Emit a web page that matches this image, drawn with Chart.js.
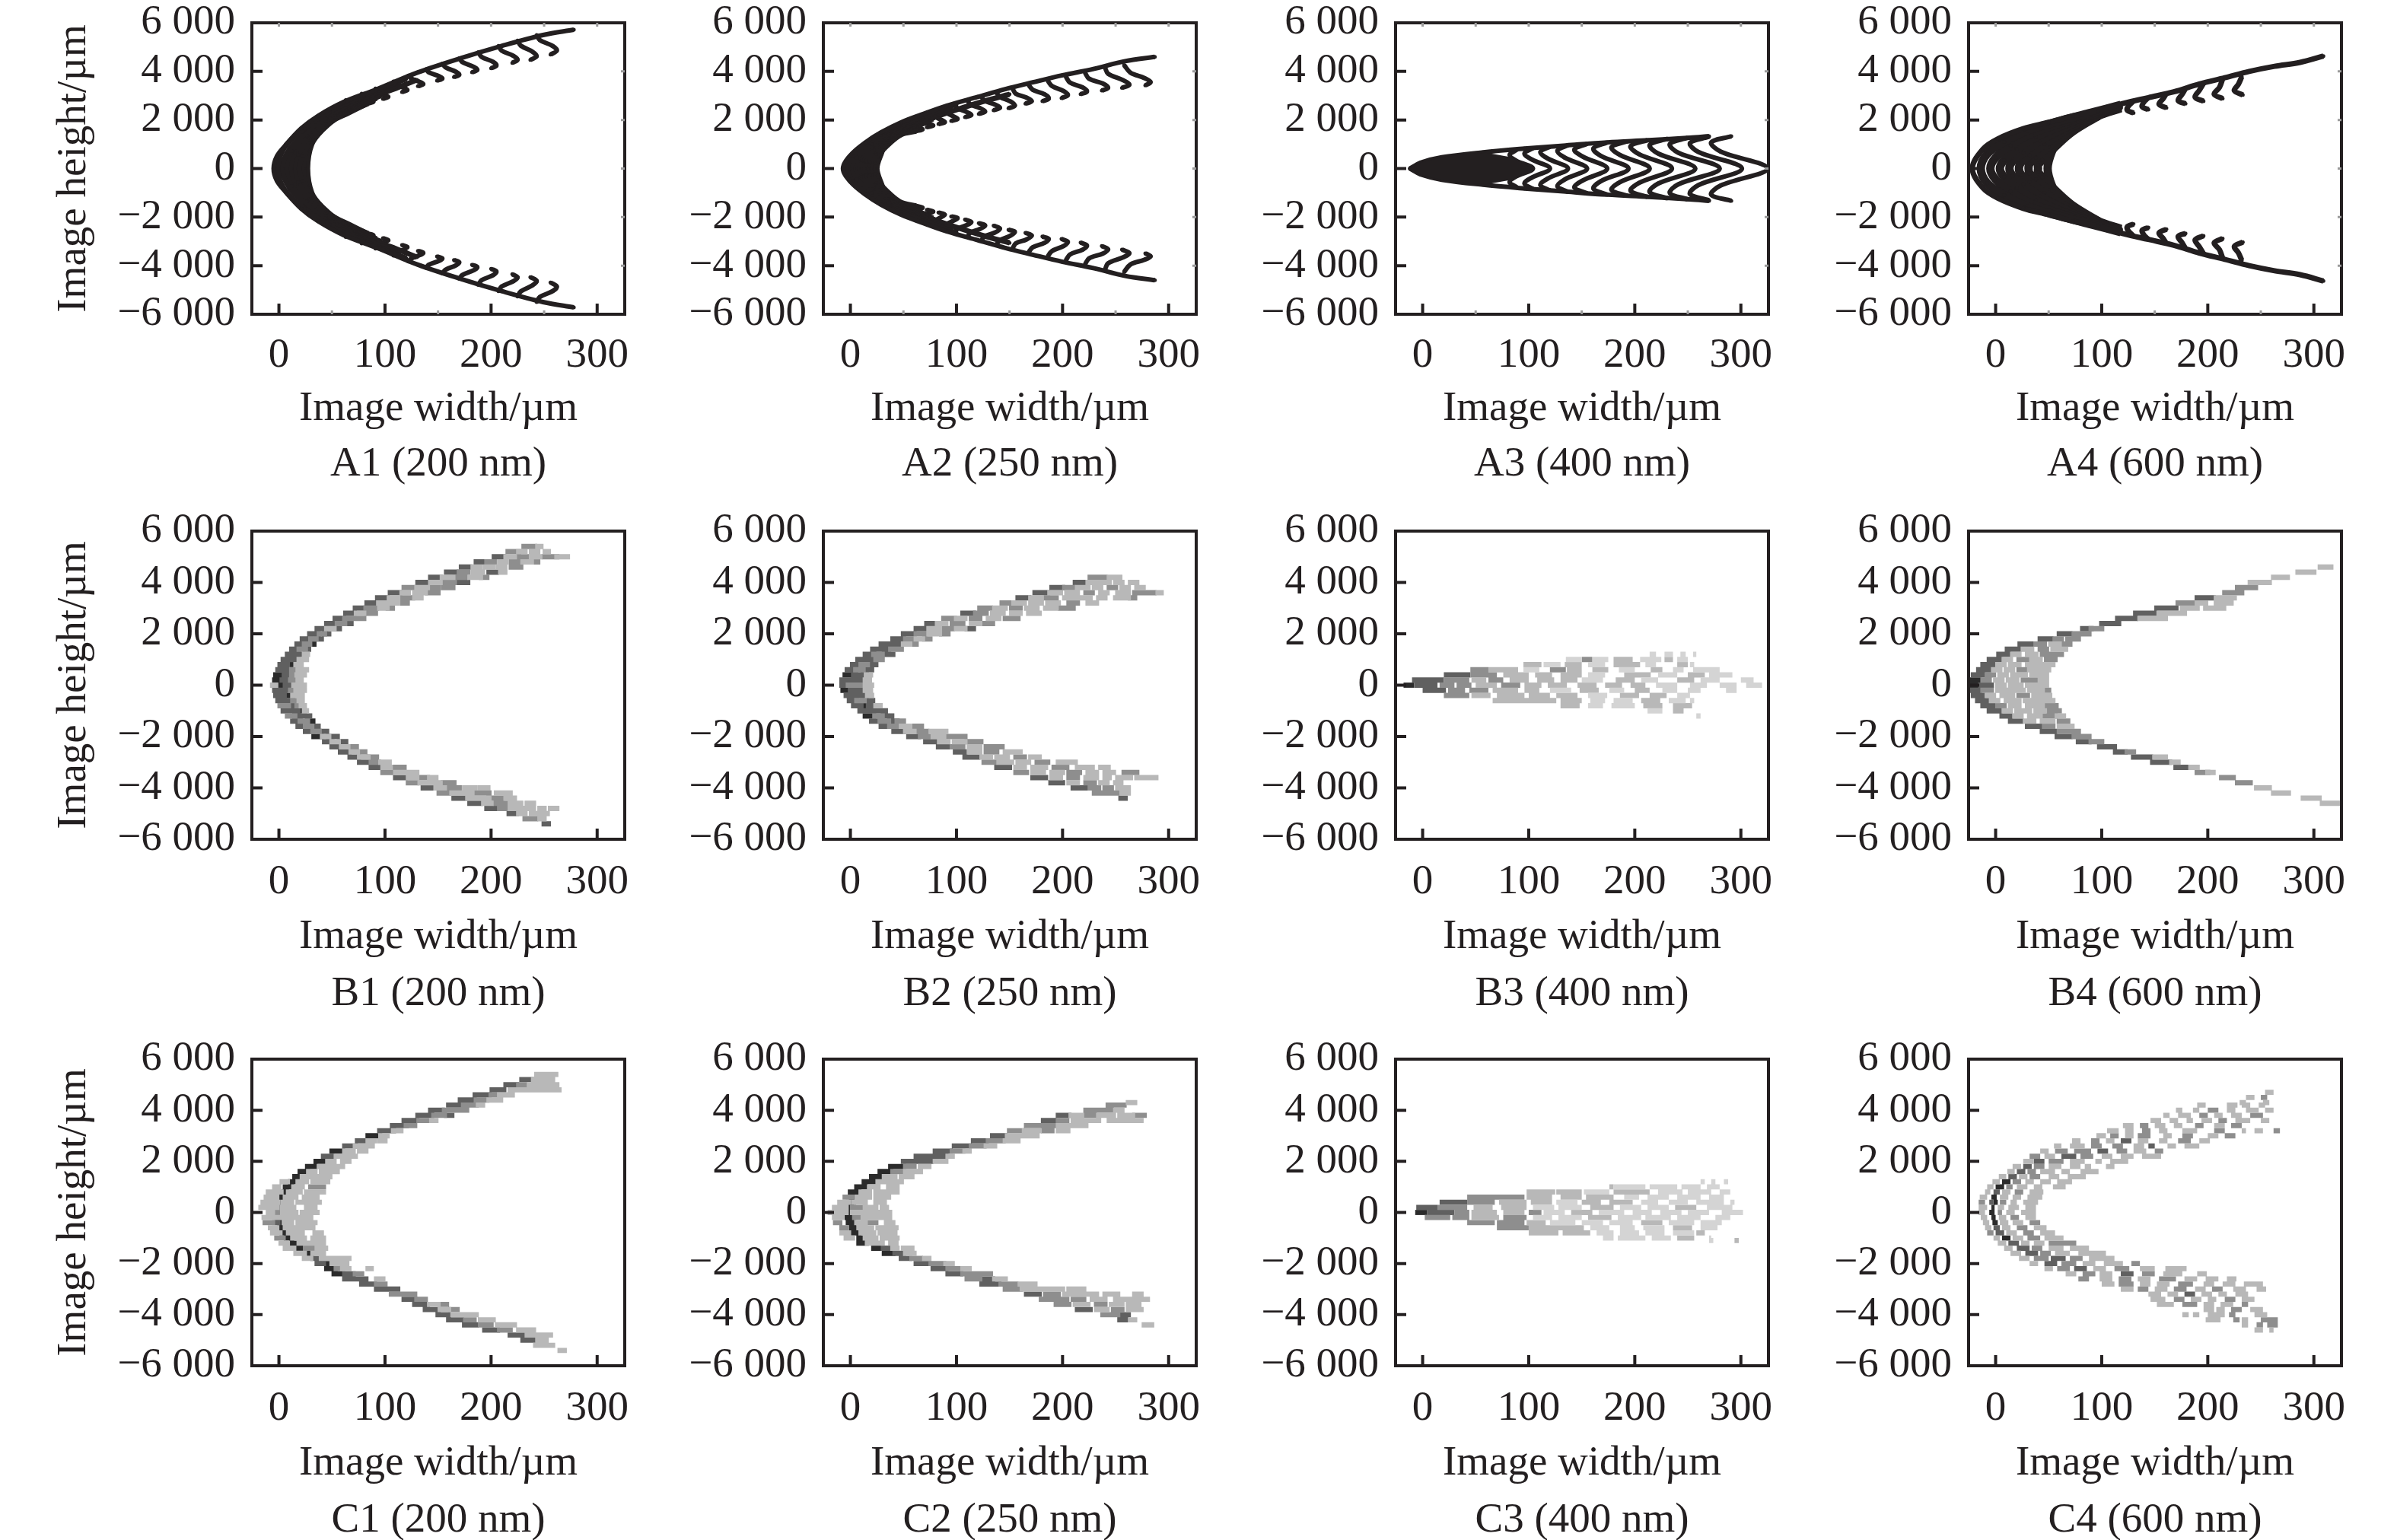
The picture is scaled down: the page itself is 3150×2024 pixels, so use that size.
<!DOCTYPE html>
<html>
<head>
<meta charset="utf-8">
<script src="https://cdn.jsdelivr.net/npm/chart.js@4"></script>
<style>
  html, body { margin: 0; background: #fff; }
  #fig { position: relative; width: 3150px; height: 2024px; overflow: hidden; }
  canvas { position: absolute; }
</style>
</head>
<body>
<div id="fig"></div>
<script>
const xTicks = [0, 100, 200, 300];
const xMinor = [50, 150, 250];
const yTicks = [-6000, -4000, -2000, 0, 2000, 4000, 6000];
const yTickLabels = ['\u22126 000', '\u22124 000', '\u22122 000', '0', '2 000', '4 000', '6 000'];
const xRange = [-25.5, 326];
const yRange = [-6000, 6000];

// A row: simulated spot traces, one [x, y] polyline each
const a1Curves = [
  [[278,5720],[249,5500],[210,5050],[171,4540],[131,3960],[92,3260],[61,2740],[37,2170],[21,1650],[6,950],[-2,500],[-5,0],[-2,-500],[6,-950],[21,-1650],[37,-2170],[61,-2740],[92,-3260],[131,-3960],[171,-4540],[210,-5050],[249,-5500],[278,-5720]],
  [[120,3700],[80,3000],[48,2350],[24,1650],[5,850],[-1,0],[5,-850],[24,-1650],[48,-2350],[80,-3000],[120,-3700]],
  [[110,3400],[75,2830],[45,2160],[25,1450],[10,800],[3,0],[10,-800],[25,-1450],[45,-2160],[75,-2830],[110,-3400]],
  [[105,3250],[72,2700],[44,2060],[26,1370],[12,720],[7,0],[12,-720],[26,-1370],[44,-2060],[72,-2700],[105,-3250]],
  [[100,3100],[68,2560],[44,1960],[28,1280],[15,650],[11,0],[15,-650],[28,-1280],[44,-1960],[68,-2560],[100,-3100]],
  [[96,3000],[66,2470],[44,1880],[29,1190],[18,570],[15,0],[18,-570],[29,-1190],[44,-1880],[66,-2470],[96,-3000]],
  [[92,2900],[65,2380],[45,1800],[30,1100],[22,500],[19,0],[22,-500],[30,-1100],[45,-1800],[65,-2380],[92,-2900]],
  [[88,2790],[66,2300],[50,1950],[35,1350],[26,750],[23,0],[26,-750],[35,-1350],[50,-1950],[66,-2300],[88,-2790]],
  [[84,2680],[69,2400],[57,2170],[41,1590],[31,1010],[27,0],[31,-1010],[41,-1590],[57,-2170],[69,-2400],[84,-2680]],
  [[130,3650],[110,3300],[85,2900],[65,2500],[50,2150]],
  [[130,-3650],[110,-3300],[85,-2900],[65,-2500],[50,-2150]],
  [[243,5500],[246,5290],[258,5050],[262,4860],[256,4690]],
  [[225,5270],[228,5060],[239,4810],[243,4630],[237,4470]],
  [[207,5050],[210,4860],[221,4640],[225,4480],[220,4350]],
  [[188,4790],[191,4600],[202,4390],[205,4240],[200,4130]],
  [[170,4540],[173,4380],[184,4180],[187,4060],[182,3960]],
  [[154,4320],[157,4170],[167,3980],[170,3860],[165,3770]],
  [[139,4100],[141,3970],[151,3800],[154,3700],[149,3620]],
  [[122,3830],[125,3700],[133,3560],[136,3470],[131,3390]],
  [[108,3590],[110,3480],[118,3320],[121,3230],[116,3150]],
  [[91,3300],[93,3180],[100,3030],[103,2950],[98,2870]],
  [[78,3090],[80,2980],[86,2830],[89,2750],[84,2680]],
  [[63,2820],[65,2710],[71,2570],[74,2490],[69,2420]],
  [[50,2500],[51,2420],[55,2300],[58,2230],[53,2170]],
  [[243,-5500],[246,-5290],[258,-5050],[262,-4860],[256,-4690]],
  [[225,-5270],[228,-5060],[239,-4810],[243,-4630],[237,-4470]],
  [[207,-5050],[210,-4860],[221,-4640],[225,-4480],[220,-4350]],
  [[188,-4790],[191,-4600],[202,-4390],[205,-4240],[200,-4130]],
  [[170,-4540],[173,-4380],[184,-4180],[187,-4060],[182,-3960]],
  [[154,-4320],[157,-4170],[167,-3980],[170,-3860],[165,-3770]],
  [[139,-4100],[141,-3970],[151,-3800],[154,-3700],[149,-3620]],
  [[122,-3830],[125,-3700],[133,-3560],[136,-3470],[131,-3390]],
  [[108,-3590],[110,-3480],[118,-3320],[121,-3230],[116,-3150]],
  [[91,-3300],[93,-3180],[100,-3030],[103,-2950],[98,-2870]],
  [[78,-3090],[80,-2980],[86,-2830],[89,-2750],[84,-2680]],
  [[63,-2820],[65,-2710],[71,-2570],[74,-2490],[69,-2420]],
  [[50,-2500],[51,-2420],[55,-2300],[58,-2230],[53,-2170]]
];
const a2Curves = [
  [[287,4600],[259,4420],[229,4100],[200,3840],[172,3550],[146,3270],[120,2950],[91,2590],[67,2220],[48,1905],[29,1490],[14,1070],[0,545],[-7,0],[0,-545],[14,-1070],[29,-1490],[48,-1905],[67,-2220],[91,-2590],[120,-2950],[146,-3270],[172,-3550],[200,-3840],[229,-4100],[259,-4420],[287,-4600]],
  [[100,2650],[68,2150],[38,1650],[16,1050],[2,500],[-3,0],[2,-500],[16,-1050],[38,-1650],[68,-2150],[100,-2650]],
  [[95,2500],[62,2000],[38,1550],[20,1000],[6,450],[0,0],[6,-450],[20,-1000],[38,-1550],[62,-2000],[95,-2500]],
  [[90,2350],[60,1880],[37,1450],[20,920],[8,400],[3.5,0],[8,-400],[20,-920],[37,-1450],[60,-1880],[90,-2350]],
  [[85,2200],[56,1780],[36,1350],[21,850],[10,350],[7,0],[10,-350],[21,-850],[36,-1350],[56,-1780],[85,-2200]],
  [[78,2050],[54,1690],[36,1280],[22,780],[12,320],[10,0],[12,-320],[22,-780],[36,-1280],[54,-1690],[78,-2050]],
  [[72,1900],[52,1600],[36,1200],[23,700],[15,300],[13,0],[15,-300],[23,-700],[36,-1200],[52,-1600],[72,-1900]],
  [[66,1720],[50,1500],[36,1100],[24,620],[18,280],[16,0],[18,-280],[24,-620],[36,-1100],[50,-1500],[66,-1720]],
  [[62,1540],[48,1400],[36,1000],[26,550],[20,250],[19,0],[20,-250],[26,-550],[36,-1000],[48,-1400],[62,-1540]],
  [[56,1600],[42,1300],[32,880],[27,480],[23,220],[22,0],[23,-220],[27,-480],[32,-880],[42,-1300],[56,-1600]],
  [[50,1500],[35,1170],[29,600],[25,0],[29,-600],[35,-1170],[50,-1500]],
  [[150,3060],[125,2760],[100,2420],[78,2090],[60,1770]],
  [[150,-3060],[125,-2760],[100,-2420],[78,-2090],[60,-1770]],
  [[258,4260],[264,3950],[277,3730],[283,3560],[278,3420]],
  [[240,4160],[243,3900],[257,3640],[263,3450],[256,3320]],
  [[221,3960],[225,3700],[238,3500],[243,3330],[237,3210]],
  [[203,3790],[207,3540],[219,3340],[223,3170],[217,3060]],
  [[186,3620],[190,3400],[201,3190],[205,3020],[199,2900]],
  [[168,3440],[172,3240],[183,3060],[187,2880],[181,2770]],
  [[153,3280],[156,3080],[166,2920],[171,2770],[165,2670]],
  [[138,3110],[141,2950],[151,2760],[155,2590],[149,2480]],
  [[124,2940],[126,2800],[136,2640],[141,2500],[135,2400]],
  [[111,2760],[113,2640],[122,2490],[127,2340],[121,2250]],
  [[99,2600],[101,2480],[109,2340],[114,2200],[108,2115]],
  [[87,2450],[89,2330],[96,2170],[101,2040],[95,1960]],
  [[76,2300],[78,2190],[84,2040],[89,1910],[83,1830]],
  [[66,2130],[67,2040],[73,1880],[78,1770],[72,1700]],
  [[57,1990],[58,1900],[63,1730],[68,1610],[62,1540]],
  [[258,-4260],[264,-3950],[277,-3760],[283,-3620],[278,-3490]],
  [[240,-4160],[243,-3900],[257,-3660],[263,-3480],[256,-3340]],
  [[221,-3960],[225,-3700],[238,-3500],[243,-3330],[237,-3190]],
  [[203,-3790],[207,-3540],[219,-3340],[223,-3170],[217,-3050]],
  [[186,-3620],[190,-3400],[201,-3190],[205,-3020],[199,-2900]],
  [[168,-3440],[172,-3240],[183,-3060],[187,-2900],[181,-2800]],
  [[153,-3280],[156,-3080],[166,-2920],[171,-2760],[165,-2650]],
  [[138,-3110],[141,-2950],[151,-2760],[155,-2600],[149,-2520]],
  [[124,-2940],[126,-2800],[136,-2640],[141,-2470],[135,-2350]],
  [[111,-2760],[113,-2640],[122,-2490],[127,-2340],[121,-2250]],
  [[99,-2600],[101,-2480],[109,-2340],[114,-2200],[108,-2100]],
  [[87,-2450],[89,-2330],[96,-2170],[101,-2040],[95,-1970]],
  [[76,-2300],[78,-2190],[84,-2040],[89,-1900],[83,-1810]],
  [[66,-2130],[67,-2040],[73,-1880],[78,-1770],[72,-1700]],
  [[57,-1990],[58,-1900],[63,-1730],[68,-1610],[62,-1540]]
];
const a3LensUp = [[-12,0],[-2,240],[18,460],[40,590],[60,650],[82,480],[104,0]];
const a3LensLow = [[-12,0],[-2,-240],[18,-460],[40,-590],[60,-650],[82,-480],[104,0]];
const a3Curves = [
  [[-12,0],[-2,240],[18,460],[57,667],[96,820],[135,950],[174,1077],[213,1167],[252,1270],[270,1333]],
  [[-12,0],[-2,-240],[18,-460],[57,-667],[96,-820],[135,-950],[174,-1077],[213,-1167],[252,-1270],[270,-1333]],
  [[291,1330],[272,1077],[281,700],[325,0],[281,-700],[272,-1077],[291,-1330]],
  [[270,1310],[252,1050],[260,680],[301,0],[260,-680],[252,-1050],[270,-1310]],
  [[250,1270],[233,1010],[241,650],[280,0],[241,-650],[233,-1010],[250,-1270]],
  [[231,1230],[214,970],[222,620],[257,0],[222,-620],[214,-970],[231,-1230]],
  [[212,1170],[196,920],[204,590],[235,0],[204,-590],[196,-920],[212,-1170]],
  [[193,1120],[178,880],[186,560],[214,0],[186,-560],[178,-880],[193,-1120]],
  [[174,1075],[161,830],[168,520],[194,0],[168,-520],[161,-830],[174,-1075]],
  [[155,1020],[143,780],[151,490],[174,0],[151,-490],[143,-780],[155,-1020]],
  [[137,960],[127,730],[134,450],[155,0],[134,-450],[127,-730],[137,-960]],
  [[120,900],[111,680],[118,410],[137,0],[118,-410],[111,-680],[120,-900]],
  [[104,840],[96,620],[103,370],[120,0],[103,-370],[96,-620],[104,-840]],
  [[89,780],[82,560],[88,330],[104,0],[88,-330],[82,-560],[89,-780]]
];
const a4Curves = [
  [[309,4630],[287,4370],[263,4210],[239,4000],[216,3740],[192,3480],[168,3160],[144,2920],[121,2690],[97,2380],[73,2170],[50,1905],[26,1640],[2,1220],[-12,800],[-22,0],[-12,-800],[2,-1220],[26,-1640],[50,-1905],[73,-2170],[97,-2380],[121,-2690],[144,-2920],[168,-3160],[192,-3480],[216,-3740],[239,-4000],[263,-4210],[287,-4370],[309,-4630]],
  [[118,2620],[90,2300],[60,1950],[30,1560],[8,1100],[-8,600],[-14,0],[-8,-600],[8,-1100],[30,-1560],[60,-1950],[90,-2300],[118,-2620]],
  [[118,2580],[90,2260],[62,1880],[34,1450],[14,950],[0,450],[-5,0],[0,-450],[14,-950],[34,-1450],[62,-1880],[90,-2260],[118,-2580]],
  [[118,2550],[92,2230],[64,1800],[38,1300],[20,800],[8,350],[4,0],[8,-350],[20,-800],[38,-1300],[64,-1800],[92,-2230],[118,-2550]],
  [[118,2520],[92,2200],[66,1700],[42,1150],[26,650],[16,300],[13,0],[16,-300],[26,-650],[42,-1150],[66,-1700],[92,-2200],[118,-2520]],
  [[118,2500],[94,2170],[68,1620],[46,1000],[32,550],[24,250],[22,0],[24,-250],[32,-550],[46,-1000],[68,-1620],[94,-2170],[118,-2500]],
  [[118,2480],[97,2170],[70,1550],[50,900],[38,450],[32,200],[31,0],[32,-200],[38,-450],[50,-900],[70,-1550],[97,-2170],[118,-2480]],
  [[97,2170],[72,1500],[54,800],[44,350],[40,150],[40,0],[40,-150],[44,-350],[54,-800],[72,-1500],[97,-2170]],
  [[97,2170],[73,1750],[61,1330],[53,700],[49,0],[53,-700],[61,-1330],[73,-1750],[97,-2170]],
  [[233,3030],[225,3210],[229,3480],[232,3780]],
  [[214,2880],[206,3060],[211,3340],[214,3690]],
  [[196,2770],[188,2940],[192,3220],[196,3510]],
  [[179,2670],[172,2800],[176,3070],[179,3300]],
  [[161,2500],[154,2650],[158,2880],[161,3100]],
  [[144,2430],[138,2550],[140,2750],[144,2920]],
  [[130,2290],[124,2400],[125,2560],[130,2780]],
  [[233,-3030],[225,-3210],[229,-3480],[232,-3780]],
  [[214,-2880],[206,-3060],[211,-3340],[214,-3690]],
  [[196,-2770],[188,-2940],[192,-3220],[196,-3510]],
  [[179,-2670],[172,-2800],[176,-3070],[179,-3300]],
  [[161,-2500],[154,-2650],[158,-2880],[161,-3100]],
  [[144,-2430],[138,-2550],[140,-2750],[144,-2920]],
  [[130,-2290],[124,-2400],[125,-2560],[130,-2780]]
];

// B and C rows: density cells, one row per y: [y, x0, x1, density, x0, x1, density, ...]
const b1Rows = [
  [5400,231,241,2,244,247,1],
  [5200,216,226,2,226,232,1,238,244,1,251,254,1],
  [5000,203,212,3,214,222,1,226,234,2,238,246,1,250,262,2,262,272,1],
  [4800,186,194,3,196,203,2,208,214,1,219,226,2,230,238,1,241,244,2],
  [4600,172,180,3,183,190,1,195,202,1,207,213,1,219,228,2],
  [4400,158,167,3,170,178,2,183,192,1,198,205,3,209,213,1],
  [4200,143,152,3,154,164,1,166,176,2,180,190,1,191,196,2],
  [4000,131,140,3,143,152,1,155,165,2,170,178,3],
  [3800,118,127,2,130,140,1,143,150,2,155,164,2],
  [3600,105,114,3,116,122,1,128,138,1,140,150,2],
  [3400,93,102,3,104,112,1,116,126,2,128,134,1],
  [3200,83,92,3,94,102,1,105,112,1,114,121,2],
  [3000,72,80,3,82,92,2,95,102,1,103,107,2],
  [2800,63,71,3,73,80,1,83,91,2],
  [2600,53,61,3,62,70,2,72,80,2],
  [2400,45,53,3,55,62,2,63,68,3],
  [2200,36,44,3,45,52,1,52,57,3],
  [2000,29,37,3,38,43,2,43,47,3],
  [1800,22,30,3,30,35,2,35,40,3],
  [1600,17,24,3,24,29,2,29,33,4],
  [1400,12,19,3,19,25,2,25,28,3],
  [1200,8,15,3,15,22,3,24,27,1],
  [1000,4,12,3,12,18,3,19,22,1,24,26,1],
  [800,1,8,3,8,15,4,16,21,1],
  [600,-1,6,3,6,12,3,12,16,2,18,26,1],
  [400,-3,5,4,5,12,3,12,14,2,17,24,1],
  [200,-4,3,4,3,10,3,11,14,2,18,21,1],
  [0,-6,-3,1,-3,6,4,6,12,3,14,24,1],
  [-200,-4,3,3,3,10,3,11,14,2,16,24,1],
  [-400,-3,5,3,5,12,4,13,16,1,18,22,1],
  [-600,-1,6,3,6,13,3,13,17,2,19,22,1],
  [-800,1,9,2,9,16,3,17,21,2,21,24,1],
  [-1000,4,11,3,11,18,3,18,24,4,24,26,1],
  [-1200,8,15,2,15,22,3,23,29,3],
  [-1400,13,20,3,20,27,2,27,32,4],
  [-1600,18,25,3,25,31,2,31,37,3],
  [-1800,25,32,3,32,38,2,38,45,3],
  [-2000,33,40,4,41,47,1,47,55,3],
  [-2200,43,50,3,50,56,1,57,63,3],
  [-2400,50,58,3,59,65,1,66,73,2],
  [-2600,58,66,3,68,74,1,75,81,2],
  [-2800,67,75,3,76,84,1,85,92,2],
  [-3000,76,84,3,87,94,2,96,104,1],
  [-3200,87,96,3,98,105,1,108,118,2],
  [-3400,98,107,2,110,116,1,120,130,1],
  [-3600,110,119,3,122,130,1,133,140,2,142,148,1],
  [-3800,122,130,2,133,140,1,144,152,1,155,165,2],
  [-4000,136,145,3,148,156,1,160,170,2,175,185,1,190,197,1],
  [-4200,151,160,2,163,172,1,176,182,1,186,198,2,205,218,1],
  [-4400,165,175,3,178,186,1,190,198,1,198,210,2,214,222,1],
  [-4600,180,190,3,193,200,1,204,214,2,218,228,1,234,240,1],
  [-4800,196,205,3,208,214,2,218,226,1,230,240,1,246,250,1,256,262,1],
  [-5000,217,224,3,226,232,1,238,244,1,248,253,1],
  [-5200,232,242,2,246,250,1],
  [-5400,250,254,3]
];
const b2Rows = [
  [4200,226,234,2,234,240,2,244,248,1,250,254,1],
  [4000,212,222,3,224,232,1,236,244,1,250,256,1,264,270,1],
  [3800,190,200,3,202,210,2,214,224,1,230,236,1,244,250,2,256,262,1,270,276,1],
  [3600,174,186,3,188,198,1,204,214,1,222,228,2,236,242,1,252,262,1,268,276,2,280,286,2,290,293,1],
  [3400,158,168,3,170,180,1,184,194,2,202,210,1,214,226,1,234,240,1,250,262,1,264,268,2],
  [3200,143,152,2,154,164,1,170,180,1,186,196,1,206,214,2,224,232,1],
  [3000,122,132,2,136,146,1,152,160,2,166,176,1,184,194,1,198,210,2],
  [2800,106,116,3,118,128,2,134,144,1,152,160,1,168,178,1],
  [2600,88,98,2,100,108,1,114,122,2,130,140,1,146,158,2],
  [2400,72,80,3,82,90,1,96,106,2,114,122,1,126,134,2],
  [2200,62,72,3,74,84,1,88,96,2,100,108,1,110,116,3],
  [2000,50,60,3,62,70,2,74,84,1,86,92,2],
  [1800,40,50,3,52,60,2,62,68,1,70,75,2],
  [1600,29,38,3,40,48,3,50,56,1,58,62,2],
  [1400,21,30,3,30,36,3,38,44,2,44,48,2],
  [1200,14,22,3,22,30,2,32,40,3],
  [1000,7,15,3,15,22,3,24,30,2],
  [800,2,10,3,10,16,2,16,24,3],
  [600,-3,5,3,5,12,2,12,20,3],
  [400,-5,3,4,3,10,3,11,15,3,15,19,1],
  [200,-8,0,3,0,7,3,7,14,3,14,18,1],
  [0,-8,-2,3,-2,5,2,5,10,2,10,14,4,14,20,1],
  [-200,-7,0,4,0,8,3,9,14,3,14,19,1],
  [-400,-4,4,3,4,11,3,11,15,4,16,20,1],
  [-600,-1,6,3,6,13,2,14,21,3],
  [-800,3,10,3,11,17,4,17,23,3,24,28,1],
  [-1000,9,17,3,18,24,3,26,33,3],
  [-1200,14,22,4,23,30,2,31,39,3],
  [-1400,20,28,3,28,36,2,37,44,3,44,50,2],
  [-1600,29,37,3,37,46,2,48,56,1,58,67,2],
  [-1800,41,50,3,52,60,1,64,72,2,76,90,1],
  [-2000,55,64,3,66,74,2,78,88,1,92,108,2],
  [-2200,71,80,3,84,92,1,98,108,1,110,123,2],
  [-2400,83,93,3,96,106,2,112,122,1,128,143,2],
  [-2600,99,108,3,112,122,1,128,138,2,146,160,1],
  [-2800,108,120,3,124,132,1,138,148,1,156,164,2,170,178,1],
  [-3000,126,136,2,140,152,1,158,168,1,176,186,2,196,212,1],
  [-3200,138,150,3,156,164,1,172,184,1,192,204,2,214,228,1,236,243,1],
  [-3400,156,166,2,172,182,1,190,200,1,206,216,2,224,232,1,240,248,1,258,270,2],
  [-3600,172,184,3,190,198,1,206,214,2,222,232,1,240,244,1,252,264,1,270,288,1],
  [-3800,189,200,3,206,214,1,222,230,2,236,242,1,250,255,1],
  [-4000,210,222,3,226,234,2,240,246,2,252,262,1],
  [-4200,230,242,2,246,252,2,256,262,1],
  [-4400,255,259,3]
];
const b3Rows = [
  [1200,214,220,0,228,236,0,243,248,0,255,258,0],
  [1000,135,150,0,150,160,2,160,175,0,180,198,1,205,225,0,228,236,1,240,250,0],
  [800,95,112,1,114,130,0,134,150,1,156,172,0,180,205,1,210,220,0,240,250,1,252,256,0],
  [600,45,62,2,62,90,1,95,110,0,120,135,2,136,150,1,160,175,1,185,200,0,215,226,1,236,246,0,255,280,0],
  [400,20,45,3,45,70,2,76,100,1,106,122,1,130,150,1,156,172,0,190,215,1,222,240,0,250,266,1,270,292,0],
  [200,-10,20,3,20,44,2,46,60,1,62,76,2,82,100,1,108,124,1,130,146,1,150,170,0,182,200,1,206,222,0,240,256,1,262,280,0,300,312,0],
  [0,-18,-8,4,-8,14,3,16,30,2,32,46,2,50,70,1,74,92,2,96,112,1,118,136,1,146,164,1,172,188,1,196,210,1,220,240,0,252,268,0,280,296,0,305,320,0],
  [-200,0,22,3,24,40,2,44,62,2,66,90,1,96,110,1,120,140,0,148,166,1,176,190,0,200,214,1,226,240,0,250,262,0,286,296,0],
  [-400,20,44,2,46,64,1,70,96,1,100,120,1,126,146,1,156,174,0,186,204,1,214,230,1,240,252,0],
  [-600,66,100,1,100,126,1,130,150,1,158,172,0,180,198,0,206,224,1,232,248,0,252,256,0],
  [-800,130,148,1,156,170,0,178,200,0,208,226,1,236,254,1],
  [-1000,212,226,0,236,246,1],
  [-1200,258,262,0]
];
const b4Rows = [
  [4600,306,310,1,314,316,1],
  [4400,285,292,1,296,300,1],
  [4200,262,275,1],
  [4000,240,258,1],
  [3800,228,245,2],
  [3600,216,232,2],
  [3400,190,205,3,208,214,1,218,225,1],
  [3200,172,186,2,190,198,1,208,222,1],
  [3000,152,170,3,176,190,1,198,215,1],
  [2800,132,150,3,154,164,1,168,178,1],
  [2600,115,132,3,136,150,1,154,160,1],
  [2400,100,116,3],
  [2200,82,90,3,90,100,2],
  [2000,60,70,3,74,88,2],
  [1800,42,52,3,56,62,2,68,78,2],
  [1600,23,35,3,38,46,2,52,60,1,62,70,2],
  [1400,11,22,3,26,34,1,42,48,2,54,66,1],
  [1200,3,12,3,16,22,1,30,38,1,44,50,2,54,62,2],
  [1000,-6,4,3,8,14,1,22,30,2,34,42,1,48,56,2],
  [800,-12,-2,3,2,8,1,14,22,1,30,36,1,40,54,1],
  [600,-16,-6,3,-2,4,1,10,16,1,22,28,2,32,42,1,46,50,1],
  [400,-21,-12,3,-8,-2,2,4,10,1,16,28,1,34,48,1],
  [200,-24,-16,4,-12,-6,2,0,6,1,12,20,1,26,38,2,42,48,1],
  [0,-26,-16,4,-14,-4,3,2,8,1,14,24,1,30,40,1,44,48,1],
  [-200,-24,-15,3,-12,-4,2,2,14,1,18,26,1,32,44,1,44,50,2],
  [-400,-21,-12,3,-8,-2,1,6,16,1,22,30,2,36,51,1],
  [-600,-17,-8,3,-4,2,1,10,22,1,28,38,1,42,54,1],
  [-800,-12,-2,3,2,8,2,14,22,1,30,44,1,48,57,2],
  [-1000,-6,4,3,8,14,1,20,32,1,38,46,1,50,60,2],
  [-1200,6,14,3,18,24,1,32,42,1,46,56,2,58,64,1],
  [-1400,14,24,3,28,36,1,44,54,1,60,68,2],
  [-1600,30,42,3,46,54,2,60,72,1],
  [-1800,44,56,3,60,68,2,72,78,2],
  [-2000,58,70,3,74,88,2],
  [-2200,78,88,3,90,100,2],
  [-2400,98,112,3],
  [-2600,113,122,3,124,130,2],
  [-2800,130,146,3,150,160,1],
  [-3000,148,164,3,166,172,1],
  [-3200,170,182,3,184,190,1],
  [-3400,190,200,2,200,205,1],
  [-3600,213,224,2],
  [-3800,228,240,2],
  [-4000,246,258,1],
  [-4200,262,276,1],
  [-4400,290,305,1],
  [-4600,308,318,1,322,324,1]
];
const c1Rows = [
  [5400,243,256,1,258,261,1],
  [5200,229,238,3,240,250,1,252,258,1],
  [5000,214,224,3,226,232,2,236,246,1,248,262,1],
  [4800,201,212,3,218,224,1,228,240,1,244,264,1],
  [4600,185,198,3,200,206,2,208,220,1],
  [4400,171,184,3,186,196,2,198,209,1],
  [4200,160,172,3,174,186,2,188,192,1],
  [4000,143,154,3,156,170,2,172,177,2],
  [3800,131,144,3,146,156,2,158,163,3],
  [3600,118,130,3,132,144,2,144,148,1],
  [3400,107,120,3,120,128,2],
  [3200,95,108,3,108,115,1],
  [3000,84,95,4,96,102,1],
  [2800,74,84,3,84,90,1,95,100,1],
  [2600,62,72,3,72,80,1,84,88,1],
  [2400,50,60,4,62,70,1,76,82,1],
  [2200,42,50,3,54,60,1,64,72,1],
  [2000,35,42,4,46,52,1,60,66,1],
  [1800,27,34,4,38,44,1,48,60,1],
  [1600,20,27,4,28,34,1,40,48,1,52,55,1],
  [1400,15,21,4,22,30,1,34,48,1],
  [1200,3,8,1,11,17,4,18,26,1,32,46,1],
  [1000,-4,0,1,6,12,4,14,22,1,30,42,2],
  [800,-10,-6,1,-2,2,1,2,7,4,9,20,1,26,42,1],
  [600,-12,-8,1,-6,-2,1,0,5,4,6,16,1,24,36,1],
  [400,-15,-10,1,-6,-1,1,-1,3,4,4,12,1,18,38,1],
  [200,-17,-10,1,-8,-2,1,-2,2,4,3,14,1,26,34,1],
  [0,-10,-6,1,-5,-2,2,-2,2,4,3,10,1,12,16,1,22,36,1],
  [-200,-14,-8,1,-4,-1,1,-2,2,4,3,16,1,20,30,1],
  [-400,-13,-6,2,-4,-1,3,-1,3,4,5,12,1,18,34,1],
  [-600,-8,-2,1,1,5,4,6,14,1,18,32,1],
  [-800,-6,1,1,3,8,4,9,22,1,34,40,1],
  [-1000,-2,4,2,7,12,4,13,24,1,32,42,1],
  [-1200,2,8,1,12,18,4,19,30,1,34,42,1],
  [-1400,6,14,1,18,24,4,25,32,2,36,44,1],
  [-1600,16,24,1,25,31,4,32,42,1],
  [-1800,24,30,1,32,38,3,40,50,1,54,66,1],
  [-2000,36,42,3,43,49,4,50,56,1,58,64,1],
  [-2200,45,53,4,54,60,2,60,66,1,84,87,1],
  [-2400,52,60,4,62,70,3,72,78,2],
  [-2600,62,70,3,72,82,3,92,98,1],
  [-2800,78,90,3,92,100,2],
  [-3000,92,100,3,100,112,3],
  [-3200,106,118,2,118,128,2],
  [-3400,118,128,3,130,138,2],
  [-3600,128,140,3,142,150,1,152,158,2],
  [-3800,138,150,3,152,160,1,162,168,2],
  [-4000,150,160,3,164,172,1,176,186,1],
  [-4200,160,172,3,176,184,2,190,202,1],
  [-4400,175,186,3,190,200,2,206,222,1],
  [-4600,194,206,3,208,218,2,226,240,1],
  [-4800,218,230,3,234,244,1,248,256,1],
  [-5000,230,240,3,244,252,1],
  [-5200,242,252,1,254,258,1],
  [-5400,265,269,1]
];
const c2Rows = [
  [4300,262,268,1],
  [4200,243,250,2,254,258,2],
  [4000,222,232,2,234,246,2,250,256,1],
  [3800,196,206,3,208,218,1,222,230,2,234,248,1,254,266,1,268,277,2],
  [3600,182,192,3,196,204,2,210,224,1,228,234,1,244,262,1,266,274,1],
  [3400,166,176,2,178,192,2,196,204,1,206,222,1],
  [3200,150,162,2,164,178,1,182,190,2,196,205,1],
  [3000,134,146,3,148,160,1,164,176,1],
  [2800,116,128,3,130,144,2,146,158,1],
  [2600,98,112,3,114,126,2,128,136,1],
  [2400,80,94,3,96,106,2,108,112,1],
  [2200,62,76,3,78,90,3,92,96,1],
  [2000,50,62,3,64,76,3,80,90,1],
  [1800,38,50,4,52,60,2,66,74,1],
  [1600,28,38,4,40,50,2,52,58,1,62,66,1],
  [1400,20,30,4,32,42,1,48,58,1],
  [1200,13,22,4,26,34,1,38,48,1],
  [1000,6,14,4,18,26,1,36,44,1],
  [800,0,8,4,10,18,1,24,38,1,40,44,1],
  [600,-5,1,2,1,5,4,6,18,1,24,36,1],
  [400,-10,-2,1,-2,3,4,3,14,1,24,32,1],
  [200,-15,-4,1,-3,1,4,2,10,2,14,24,1,30,34,1],
  [0,-19,-4,1,-3,1,4,2,12,1,16,26,1,28,37,1],
  [-200,-15,-8,1,-3,1,4,4,10,2,12,24,1,28,37,1],
  [-400,-14,-10,2,-2,3,4,6,14,1,18,24,2,34,40,1],
  [-600,-8,-4,2,1,6,4,8,20,1,26,38,1,40,43,1],
  [-800,-8,-2,1,3,8,4,10,22,1,28,42,1],
  [-1000,-4,2,1,8,13,4,14,24,1,30,44,1],
  [-1200,8,15,4,16,30,1,38,43,1],
  [-1400,22,30,4,31,38,3,40,44,1,50,58,1],
  [-1600,32,40,4,42,50,3,52,60,1],
  [-1800,48,56,3,58,66,2,70,74,1],
  [-2000,62,74,3,76,88,2,90,96,1],
  [-2200,78,90,3,92,104,2,106,112,1],
  [-2400,92,104,3,106,118,2,120,132,2],
  [-2600,110,122,2,124,134,3,136,146,1],
  [-2800,124,140,3,142,156,2,160,174,1],
  [-3000,146,160,2,162,178,1,182,200,1,206,220,1],
  [-3200,166,178,3,184,196,2,202,212,1,216,232,1,240,252,1,268,274,1],
  [-3400,180,190,2,194,204,2,210,220,2,228,240,1,250,262,1,266,280,1],
  [-3600,194,206,2,212,224,1,232,240,2,246,256,1,262,272,1],
  [-3800,214,226,3,232,242,1,248,256,2,262,274,1],
  [-4000,238,252,2,254,262,3],
  [-4200,254,260,3,264,268,1],
  [-4400,277,284,1]
];
const c3Rows = [
  [1200,262,266,0,272,276,0,284,288,0],
  [1000,176,180,1,180,210,0,214,240,0,244,262,0,268,280,0],
  [800,98,125,1,126,150,1,152,176,0,180,214,1,222,245,0,250,272,0,280,290,0],
  [600,42,70,2,70,96,2,98,122,1,130,150,1,154,180,1,190,204,0,212,232,0,240,262,0,270,284,0],
  [400,16,42,3,42,68,2,72,98,1,102,122,1,126,146,0,150,168,1,176,198,1,206,222,0,232,250,0,258,284,0,290,294,0],
  [200,-6,14,3,14,42,2,48,66,1,74,98,1,104,124,0,128,150,0,158,180,1,186,206,0,212,232,0,238,258,1,268,292,0],
  [0,-7,4,4,4,30,3,30,44,2,46,70,1,76,96,1,100,112,2,114,134,0,140,160,1,166,190,0,198,216,0,224,244,0,250,270,0,282,302,0],
  [-200,2,26,2,28,44,2,46,72,1,76,98,2,104,122,0,128,150,0,156,178,1,184,206,0,210,234,0,240,262,0,276,290,0],
  [-400,42,68,2,70,96,2,98,116,1,120,144,0,150,170,0,176,198,0,206,226,1,232,256,0,262,282,0],
  [-600,70,100,2,100,130,1,130,152,1,158,176,0,186,200,0,208,228,0,236,254,1,262,278,0],
  [-800,100,128,1,132,158,1,164,180,0,186,204,0,210,228,0,236,256,0,258,266,1],
  [-1000,170,180,0,184,210,0,216,234,0,240,256,1,270,272,0],
  [-1100,270,274,0,294,298,1]
];
const c4Rows = [
  [4700,254,258,1,258,262,1],
  [4500,236,244,1,250,256,2],
  [4300,230,236,1,252,258,1],
  [4200,190,198,1,218,228,1,232,240,1,248,254,1],
  [4000,170,176,1,186,192,1,200,210,2,218,226,1,236,248,1,254,262,1],
  [3800,158,164,1,172,184,1,192,200,2,206,214,1,222,232,1,240,252,2],
  [3600,146,156,1,164,172,1,180,186,1,194,204,1,210,218,2,226,240,1,250,258,1],
  [3400,120,130,1,136,144,2,150,160,1,168,176,1,188,196,2,206,216,1,222,232,2],
  [3200,105,116,1,122,130,1,138,146,2,154,162,1,176,190,1,206,216,2,232,236,1,244,252,1,262,268,2],
  [3000,95,104,1,108,116,2,122,130,1,134,146,2,158,166,1,176,186,2,200,210,1,216,226,2],
  [2800,72,80,1,90,98,2,104,112,1,118,128,3,134,144,1,154,162,1,172,184,2,192,202,1],
  [2600,55,62,1,70,84,1,90,100,2,110,120,2,130,140,1,144,150,3,162,170,1,178,192,1],
  [2400,42,50,1,56,68,2,74,90,2,96,106,3,114,124,2,130,142,1,150,158,2],
  [2200,32,42,2,46,56,1,62,76,3,80,92,2,100,110,1,118,130,1,138,156,1],
  [2000,26,36,1,36,46,3,50,64,2,70,84,1,94,100,1,108,125,1],
  [1800,16,24,1,26,34,3,36,46,2,50,62,1,70,80,1,84,90,1,104,112,1],
  [1600,11,18,1,20,28,3,30,38,2,42,56,1,62,70,1,80,97,1],
  [1400,3,10,1,12,20,3,22,30,1,32,42,2,50,60,1,68,85,1],
  [1200,-3,4,1,6,14,4,16,24,2,28,36,1,42,52,1,58,72,1],
  [1000,-8,-2,1,0,8,4,10,16,2,20,30,1,36,44,1,54,66,1],
  [800,-10,-5,1,-2,4,3,6,14,1,18,26,2,32,45,1],
  [600,-15,-8,1,-4,1,4,4,12,1,16,24,1,30,44,1],
  [400,-16,-10,2,-6,-2,3,-2,2,4,4,10,2,14,20,1,26,40,1],
  [200,-16,-8,1,-4,-1,4,2,8,1,12,22,1,28,38,1],
  [0,-16,-10,1,-6,-1,4,2,6,2,10,18,1,24,38,1],
  [-200,-14,-8,1,-4,0,4,3,10,1,14,22,2,28,38,1],
  [-400,-12,-6,1,-3,2,4,4,12,1,16,26,1,32,42,2],
  [-600,-10,-4,1,-2,4,3,6,14,1,20,30,2,36,48,1],
  [-800,-8,-2,2,0,8,3,10,20,1,26,36,2,42,56,1],
  [-1000,-2,4,1,6,14,4,16,26,1,30,42,2,46,64,1],
  [-1200,2,10,1,12,22,3,24,32,1,36,46,1,50,76,2],
  [-1400,8,16,1,20,32,3,34,44,2,50,64,1,70,88,1],
  [-1600,14,24,1,28,40,3,42,52,2,56,70,1,78,104,1],
  [-1800,22,32,1,36,50,2,52,66,3,70,82,2,88,112,1],
  [-2000,32,40,1,46,58,3,62,76,2,82,94,1,102,120,1,128,136,2],
  [-2200,46,54,1,58,70,2,74,86,3,92,104,1,112,126,2,136,150,1,160,180,1],
  [-2400,66,76,1,82,94,2,98,110,1,118,130,3,138,150,2,158,176,1,190,199,1],
  [-2600,78,88,2,98,110,1,116,128,2,134,146,1,154,170,2,178,190,1,198,210,1,218,227,1],
  [-2800,100,112,1,116,130,2,136,146,1,152,164,1,172,186,2,196,206,1,214,226,1,234,252,1],
  [-3000,118,130,1,134,144,2,150,162,1,168,180,2,188,198,1,204,214,2,224,236,1,246,255,1],
  [-3200,144,156,1,162,172,1,178,188,3,194,204,1,210,218,1,226,238,1],
  [-3400,146,160,1,168,178,2,184,194,1,200,208,1,216,226,2,232,244,1],
  [-3600,152,168,1,176,190,2,196,206,1,212,224,1,232,238,2],
  [-3800,196,206,1,208,216,1,222,232,2,240,252,1],
  [-4000,176,182,1,186,192,1,200,216,1,220,226,2,244,256,1],
  [-4200,198,212,1,224,230,2,232,238,1,250,266,2],
  [-4400,232,238,1,246,252,2,256,266,2],
  [-4600,244,252,1,258,262,1]
];

const captions = [
  'A1 (200 nm)', 'A2 (250 nm)', 'A3 (400 nm)', 'A4 (600 nm)',
  'B1 (200 nm)', 'B2 (250 nm)', 'B3 (400 nm)', 'B4 (600 nm)',
  'C1 (200 nm)', 'C2 (250 nm)', 'C3 (400 nm)', 'C4 (600 nm)'
];
const panelData = [
  { curves: a1Curves, width: 6, nest: 10, nestWidth: 7 },
  { curves: a2Curves, width: 6, nest: 12, nestWidth: 7 },
  { curves: a3Curves, width: 6, nest: 0, nestWidth: 6, lens: [a3LensUp, a3LensLow] },
  { curves: a4Curves, width: 7, nest: 8, nestWidth: 11 },
  { rows: b1Rows, cap: 'square' }, { rows: b2Rows, cap: 'square' }, { rows: b3Rows, cap: 'butt' }, { rows: b4Rows, cap: 'square' },
  { rows: c1Rows, cap: 'square' }, { rows: c2Rows, cap: 'square' }, { rows: c3Rows, cap: 'butt' }, { rows: c4Rows, cap: 'butt' }
];

const ink = '#231f20';
const densityColors = ['#d4d4d4', '#b8b8b8', '#8e8e8e', '#606060', '#2b2b2b'];
const fontFamily = '"Liberation Serif", serif';
const colLeft = [331, 1082, 1834, 2587];
const rowTop = [30, 698, 1392];
const rowBottom = [413, 1103, 1795];
const xBands = [161, 165, 165];
const tickPads = [22, 24, 24];
const capPads = [4, 6, 6];
const plotW = 490;

// frame and inward ticks, placed through the chart's scales
const framePlugin = {
  id: 'frame',
  afterDatasetsDraw(chart, args, opts) {
    const { ctx, chartArea: { left, right, top, bottom }, scales: { x, y } } = chart;
    ctx.save();
    ctx.strokeStyle = ink;
    ctx.lineWidth = 4;
    ctx.beginPath();
    yTicks.slice(1, -1).forEach(v => {
      const py = y.getPixelForValue(v);
      ctx.moveTo(left, py);
      ctx.lineTo(left + 14, py);
    });
    xTicks.forEach(v => {
      const px = x.getPixelForValue(v);
      ctx.moveTo(px, bottom);
      ctx.lineTo(px, bottom - 14);
    });
    ctx.stroke();
    ctx.strokeRect(left, top, right - left, bottom - top);
    if (opts.minor) {
      ctx.strokeStyle = '#9a9a9a';
      ctx.lineWidth = 3;
      ctx.beginPath();
      yTicks.slice(1, -1).forEach(v => {
        const py = y.getPixelForValue(v);
        ctx.moveTo(right, py);
        ctx.lineTo(right - 5, py);
      });
      xTicks.concat(xMinor).forEach(v => {
        const px = x.getPixelForValue(v);
        ctx.moveTo(px, top);
        ctx.lineTo(px, top + 5);
      });
      xMinor.forEach(v => {
        const px = x.getPixelForValue(v);
        ctx.moveTo(px, bottom);
        ctx.lineTo(px, bottom - 5);
      });
      ctx.stroke();
    }
    ctx.restore();
  }
};

function rowsToRuns(rows, level) {
  const out = [];
  rows.forEach(r => {
    for (let i = 1; i < r.length; i += 3) {
      if (r[i + 2] === level) {
        out.push({ x: r[i], y: r[0] }, { x: r[i + 1], y: r[0] }, { x: NaN, y: NaN });
      }
    }
  });
  return out;
}

function buildDatasets(p) {
  const sets = [];
  if (p.rows) {
    densityColors.forEach((color, level) => {
      sets.push({
        data: rowsToRuns(p.rows, level),
        showLine: true, pointRadius: 0, borderColor: color,
        borderWidth: 6.8, borderCapStyle: p.cap, spanGaps: false
      });
    });
  }
  if (p.lens) {
    sets.push({
      data: p.lens[0].map(d => ({ x: d[0], y: d[1] })), showLine: true, pointRadius: 0,
      borderWidth: 0, backgroundColor: ink, fill: '+1'
    });
    sets.push({
      data: p.lens[1].map(d => ({ x: d[0], y: d[1] })), showLine: true, pointRadius: 0, borderWidth: 0
    });
  }
  if (p.curves) {
    p.curves.forEach((c, n) => {
      sets.push({
        data: c.map(d => ({ x: d[0], y: d[1] })),
        showLine: true, tension: 0.35, borderColor: ink,
        borderWidth: n >= 1 && n <= p.nest ? p.nestWidth : p.width,
        pointRadius: 2.5, pointBackgroundColor: ink, pointBorderWidth: 0
      });
    });
  }
  return sets;
}

const fig = document.getElementById('fig');
captions.forEach((caption, i) => {
  const col = i % 4, row = Math.floor(i / 4);
  const plotH = rowBottom[row] - rowTop[row];
  const marginX = 300, marginT = 40, xBand = xBands[row], titleBand = 66 + capPads[row] + 6;
  const canvas = document.createElement('canvas');
  canvas.width = marginX + plotW + marginX;
  canvas.height = marginT + plotH + xBand + titleBand;
  canvas.style.left = (colLeft[col] - marginX) + 'px';
  canvas.style.top = (rowTop[row] - marginT) + 'px';
  fig.appendChild(canvas);

  new Chart(canvas, {
    type: 'scatter',
    data: { datasets: buildDatasets(panelData[i]) },
    options: {
      responsive: false,
      animation: false,
      devicePixelRatio: 1,
      events: [],
      layout: { padding: { top: marginT, right: marginX, left: 0, bottom: 0 } },
      plugins: {
        legend: { display: false },
        tooltip: { enabled: false },
        frame: { minor: row === 0 },
        title: {
          display: true, text: caption, position: 'bottom', color: ink, fullSize: false,
          padding: { top: capPads[row], bottom: 6 },
          font: { family: fontFamily, size: 55, weight: 'normal', lineHeight: 1.2 }
        }
      },
      scales: {
        x: {
          type: 'linear', min: xRange[0], max: xRange[1],
          afterBuildTicks: s => { s.ticks = xTicks.map(v => ({ value: v })); },
          afterFit: s => { s.height = xBand; s.paddingLeft = 0; s.paddingRight = 0; },
          grid: { display: false, drawTicks: false },
          border: { display: false },
          ticks: { color: ink, padding: tickPads[row], maxRotation: 0, autoSkip: false, font: { family: fontFamily, size: 55 } },
          title: {
            display: true, text: 'Image width/\u00b5m', color: ink,
            padding: { top: 0, bottom: 3 },
            font: { family: fontFamily, size: 55, lineHeight: 1.2 }
          }
        },
        y: {
          type: 'linear', min: yRange[0], max: yRange[1],
          afterBuildTicks: s => { s.ticks = yTicks.map(v => ({ value: v })); },
          afterFit: s => { s.width = marginX; s.paddingTop = 0; s.paddingBottom = 0; },
          grid: { display: false, drawTicks: false },
          border: { display: false },
          ticks: {
            color: ink, padding: 22, autoSkip: false, font: { family: fontFamily, size: 55 },
            callback: v => yTickLabels[yTicks.indexOf(v)]
          },
          title: {
            display: col === 0, text: 'Image height/\u00b5m', color: ink,
            padding: { top: 34, bottom: 0 },
            font: { family: fontFamily, size: 55, lineHeight: 1.2 }
          }
        }
      }
    },
    plugins: [framePlugin]
  });
});
</script>
</body>
</html>
